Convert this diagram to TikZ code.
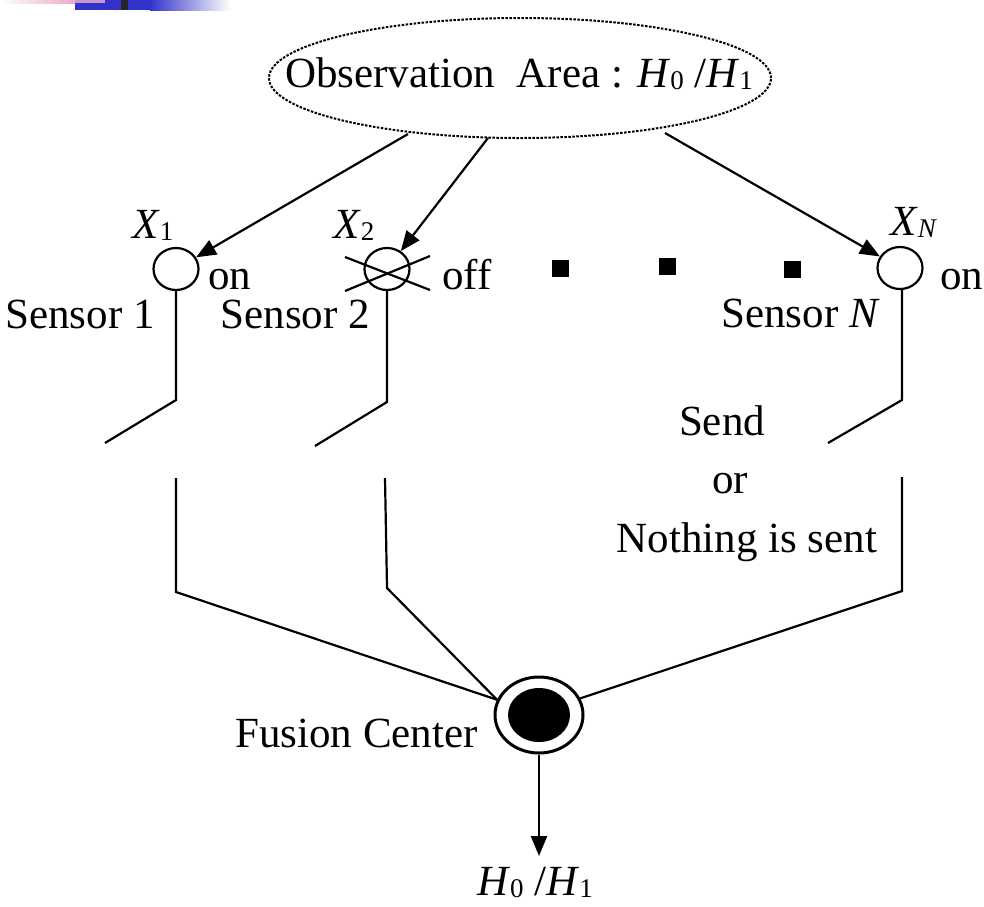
\documentclass[tikz,border=0pt]{standalone}
\usepackage{fontspec}
\setmainfont{Liberation Serif}
\usetikzlibrary{arrows.meta,shapes.geometric}
\newcommand{\bigtxt}{\fontsize{43}{50}\selectfont}
\newcommand{\hsub}[2]{\textit{#1}\raisebox{-0.06em}{\fontsize{27}{27}\selectfont #2}}
\definecolor{slideblue}{RGB}{51,51,204}
\definecolor{slidepink}{RGB}{235,170,200}
\definecolor{slidemix}{RGB}{200,150,200}
\begin{document}
\begin{tikzpicture}[x=1pt,y=-1pt,
  lbl/.style={font=\bigtxt,inner sep=0pt},
  wire/.style={line width=2.2pt,line join=miter},
  arr/.style={line width=2.2pt,-{Triangle[length=20pt,width=16pt]}},
  sensor/.style={draw,line width=2.2pt,ellipse,minimum width=45pt,minimum height=42pt,inner sep=0pt},
  obsarea/.style={draw,ellipse,line width=2pt,dash pattern=on 2.5pt off 1.5pt,minimum width=502pt,minimum height=120pt,inner sep=0pt},
  fusion/.style={draw,line width=3pt,ellipse,minimum width=88pt,minimum height=76pt,inner sep=0pt},
  dotsq/.style={fill=black,minimum size=17pt,inner sep=0pt}]
\useasboundingbox (0,0) rectangle (984,906);
% slide artefact top left
\fill[slideblue] (75,0) rectangle (150,10);
\shade[left color=slideblue,right color=white] (150,0) rectangle (230,10);
\shade[left color=white,right color=slidepink] (0,0) rectangle (75,3);
\fill[slidemix] (75,0) rectangle (105,3);
\fill[black!85] (121,0) rectangle (128,10);
% observation area
\node[obsarea] (obs) at (520,78) {};
\node[lbl,anchor=base] (obstxt) at (519,87) {Observation~~Area : \hsub{H}{0} /\hsub{H}{1}};
% sensors
\node[sensor] (s1) at (176,269) {};
\node[sensor] (s2) at (387,269) {};
\node[sensor] (sN) at (900,268) {};
\node[lbl,anchor=base west] (x1) at (132,238) {\hsub{X}{1}};
\node[lbl,anchor=base west] (x2) at (333,238) {\hsub{X}{2}};
\node[lbl,anchor=base west] (xN) at (890,235) {\textit{X}\raisebox{-0.06em}{\fontsize{27}{27}\selectfont\textit{N}}};
\node[lbl,anchor=base west] (on1) at (208,289) {on};
\node[lbl,anchor=base west] (off2) at (442,289) {off};
\node[lbl,anchor=base west] (onN) at (940,289) {on};
\node[lbl,anchor=base east] (sl1) at (155,328) {Sensor 1};
\node[lbl,anchor=base east] (sl2) at (370,328) {Sensor 2};
\node[lbl,anchor=base east] (slN) at (880,327) {Sensor \textit{N}};
% dots
\node[dotsq] (d1) at (560,268) {};
\node[dotsq] (d2) at (667,266) {};
\node[dotsq] (d3) at (792,269) {};
% cross on sensor 2
\coordinate (c1a) at (345,257); \coordinate (c1b) at (430,290);
\coordinate (c2a) at (345,291); \coordinate (c2b) at (430,256);
\draw[line width=2.2pt] (c1a) -- (c1b);
\draw[line width=2.2pt] (c2a) -- (c2b);
% arrows from observation area
\coordinate (a1) at (408,134);
\coordinate (a2) at (488,138);
\coordinate (a3) at (665,133);
\draw[arr] (a1) -- (s1);
\draw[arr] (a2) -- (s2);
\draw[arr] (a3) -- (sN);
% switches
\coordinate (k1) at (176,400); \coordinate (e1) at (105,443);
\coordinate (k2) at (387,402); \coordinate (e2) at (315,446);
\coordinate (kN) at (902,400); \coordinate (eN) at (828,443);
\draw[wire] (s1.south) -- (k1) -- (e1);
\draw[wire] (s2.south) -- (k2) -- (e2);
\draw[wire] (902,290) coordinate (sNb) -- (kN) -- (eN);
% fusion center
\node[fusion] (fc) at (539,715) {};
\fill (fc.center) ellipse [x radius=31pt,y radius=27pt];
\coordinate (t1) at (176,478); \coordinate (b1) at (176,592);
\coordinate (t2) at (385,478); \coordinate (b2) at (387,588);
\coordinate (tN) at (902,477); \coordinate (bN) at (902,591);
\draw[wire] (t1) -- (b1) -- (fc.160);
\draw[wire] (t2) -- (b2) -- (fc.160);
\draw[wire] (tN) -- (bN) -- (fc.22);
\node[lbl,anchor=base east] (fcl) at (478,747) {Fusion Center};
% send text
\node[lbl,anchor=base] (snd) at (722,435) {Send};
\node[lbl,anchor=base] (sor) at (730,493) {or};
\node[lbl,anchor=base] (sns) at (747,552) {Nothing is sent};
% output
\coordinate (tip) at (539,856);
\draw[arr] (fc.south) -- (tip);
\node[lbl,anchor=base] (outl) at (535,895) {\hsub{H}{0} /\hsub{H}{1}};
\end{tikzpicture}
\end{document}
